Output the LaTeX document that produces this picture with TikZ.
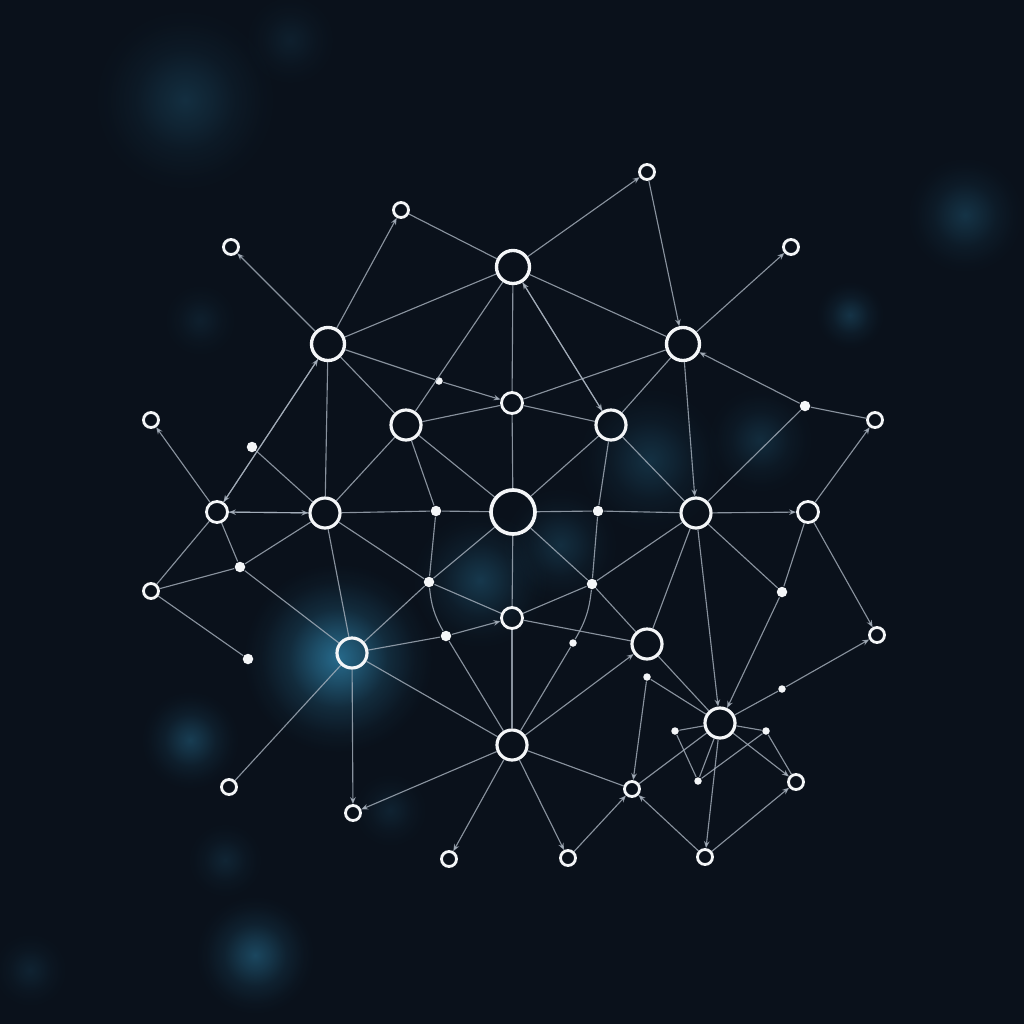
\documentclass[tikz,border=0pt]{standalone}
\usetikzlibrary{arrows.meta,fadings}
\definecolor{bg}{HTML}{0A111B}
\definecolor{blobc}{HTML}{2A7498}
\definecolor{wire}{HTML}{A9B3BF}
\definecolor{ringc}{HTML}{F4F6F8}
\pgfdeclareradialshading{fzshade}{\pgfpointorigin}{color(0bp)=(pgftransparent!0);
  color(6bp)=(pgftransparent!30); color(13bp)=(pgftransparent!70);
  color(20bp)=(pgftransparent!92); color(25bp)=(pgftransparent!100);
  color(50bp)=(pgftransparent!100)}
\pgfdeclarefading{fuzz}{\pgfuseshading{fzshade}}
\newcommand\blob[3]{\fill[blobc, opacity=#3, path fading=fuzz] (#1) circle (#2);}
\begin{document}
\begin{tikzpicture}[
  x=0.01cm, y=-0.01cm,
  ring/.style={circle, draw=ringc, line width=0.8pt, inner sep=0pt, minimum size=1.5mm},
  mid/.style={ring, minimum size=2.1mm},
  med/.style={ring, line width=0.9pt, minimum size=3mm},
  big/.style={ring, line width=0.95pt, minimum size=3.3mm},
  hub/.style={ring, line width=1.05pt, minimum size=4.4mm},
  dot/.style={circle, fill=ringc, inner sep=0pt, minimum size=1.05mm},
  sdot/.style={dot, minimum size=0.75mm},
  link/.style={draw=wire, line width=0.32pt, opacity=0.8},
  tip/.style={link, -{Stealth[length=2pt, width=1.6pt]}}]
% background and glow
\useasboundingbox (0,0) rectangle (1024,1024);
\clip (0,0) rectangle (1024,1024);
\fill[bg] (0,0) rectangle (1024,1024);
\blob{185,100}{95}{0.3}
\blob{290,40}{50}{0.15}
\blob{965,215}{60}{0.35}
\blob{850,315}{35}{0.35}
\blob{200,320}{40}{0.15}
\blob{338,658}{95}{0.9}
\blob{480,580}{70}{0.4}
\blob{560,545}{60}{0.3}
\blob{650,460}{75}{0.32}
\blob{760,440}{55}{0.28}
\blob{190,740}{50}{0.45}
\blob{225,860}{40}{0.2}
\blob{255,955}{60}{0.55}
\blob{390,810}{40}{0.18}
\blob{30,970}{40}{0.18}
% rings
\node[ring] (t1) at (647,172) {};
\node[ring] (t2) at (401,210) {};
\node[ring] (t3) at (231,247) {};
\node[ring] (t4) at (791,247) {};
\node[big] (top) at (513,267) {};
\node[big] (ul) at (328,344) {};
\node[big] (ur) at (683,344) {};
\node[mid] (cm) at (512,403) {};
\node[med] (ml) at (406,425) {};
\node[med] (mr) at (611,425) {};
\node[ring] (fl) at (151,420) {};
\node[ring] (fr) at (875,420) {};
\node[mid] (l2) at (217,512) {};
\node[med] (l1) at (325,513) {};
\node[hub] (c) at (513,512) {};
\node[med] (r1) at (696,513) {};
\node[mid] (r2) at (808,512) {};
\node[ring] (ll) at (151,591) {};
\node[mid] (cb) at (512,618) {};
\node[med] (glow) at (352,653) {};
\node[med] (rb) at (647,644) {};
\node[ring] (frr) at (877,635) {};
\node[med] (br) at (720,723) {};
\node[med] (b) at (512,745) {};
\node[ring] (bl1) at (229,787) {};
\node[ring] (bl2) at (353,813) {};
\node[ring] (bm) at (632,789) {};
\node[ring] (brr) at (796,782) {};
\node[ring] (bb1) at (449,859) {};
\node[ring] (bb2) at (568,858) {};
\node[ring] (bb3) at (705,857) {};
% dots
\node[sdot] (d1) at (439,381) {};
\node[dot] (d2) at (252,447) {};
\node[dot] (d3) at (805,406) {};
\node[dot] (d4) at (436,511) {};
\node[dot] (d5) at (598,511) {};
\node[dot] (d6) at (240,567) {};
\node[dot] (d7) at (429,582) {};
\node[dot] (d8) at (592,584) {};
\node[dot] (d9) at (782,592) {};
\node[dot] (d10) at (248,659) {};
\node[dot] (d11) at (446,636) {};
\node[sdot] (d12) at (573,643) {};
\node[sdot] (d13) at (647,677) {};
\node[sdot] (d14) at (782,689) {};
\node[sdot] (d15) at (675,731) {};
\node[sdot] (d16) at (766,731) {};
\node[sdot] (d17) at (698,781) {};
% links
\foreach \a/\b in {t2/top, ul/top, ul/d1, top/ml, ul/ml, ul/l1, top/cm, ml/cm,
  d2/l1, l1/d4, d4/c, ml/l1, ml/d4, ml/c, cm/c, top/ur, cm/ur, cm/mr, ur/mr,
  d3/fr, d3/r1, mr/c, mr/d5, mr/r1, c/d5, d5/r1, l2/ll, l2/d6, d6/ll, d6/l1,
  d6/glow, ll/d10, l1/glow, l1/d7, d4/d7, c/d7, d7/glow, d7/cb, d11/b,
  glow/d11, glow/bl1, glow/b, c/cb, cb/b, c/d8, d5/d8, d8/r1, d8/cb, d8/rb,
  d12/b, cb/rb, rb/r1, r1/d9, d9/r2, d14/br, rb/br, d13/br, br/d15, br/d16,
  d15/d17, d17/br, d17/d16, d16/brr, br/bm, b/bm}
  \draw[link] (\a) -- (\b);
\foreach \a/\b in {ul/t3, ul/t2, d1/cm, l2/fl, l2/l1, l1/l2, top/t1, t1/ur,
  ur/t4, mr/top, top/mr, d3/ur, r2/fr, ur/r1, r1/r2, glow/bl2, b/bl2, b/bb1,
  d11/cb, b/rb, d13/bm, r1/br, d9/br, d14/frr, r2/frr, b/bb2, bb2/bm, bb3/bm,
  bb3/brr, br/bb3, br/brr, ul/l2, l2/ul}
  \draw[tip] (\a) -- (\b);
\draw[link] (d7) to[bend right=12] (d11);
\draw[link] (d8) to[bend left=12] (d12);
\end{tikzpicture}
\end{document}
